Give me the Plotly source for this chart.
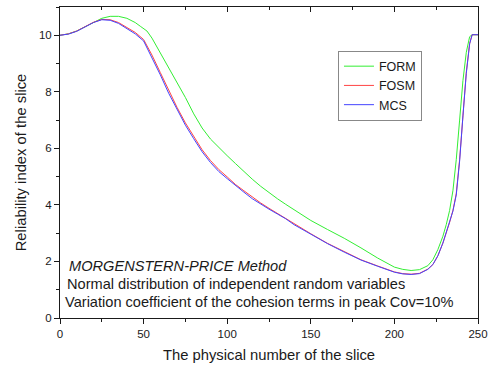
import plotly.graph_objects as go

# slice numbers and reliability indices
x_form = [0, 5, 10, 15, 20, 25, 30, 35, 40, 45, 48, 52, 55, 60, 65, 70, 75, 80, 85, 90, 95,
          100, 105, 110, 115, 120, 125, 130, 135, 140, 145, 150, 160, 170, 180, 190, 200, 205,
          210, 215, 220, 223, 226, 229, 231, 233, 235, 237, 239, 241, 243, 245, 246.5, 250]
y_form = [10.0, 10.05, 10.15, 10.3, 10.47, 10.6, 10.67, 10.67, 10.6, 10.45, 10.32, 10.15, 9.9,
          9.38, 8.85, 8.35, 7.8, 7.22, 6.72, 6.33, 6.02,
          5.74, 5.46, 5.18, 4.91, 4.66, 4.43, 4.22, 4.02, 3.82, 3.63, 3.45, 3.13, 2.82, 2.48,
          2.12, 1.8, 1.72, 1.68, 1.71, 1.85, 2.06,
          2.42, 2.89, 3.3, 3.8, 4.5, 5.6, 7.0, 8.4, 9.4, 9.95, 10.02, 10.02]

x_fosm = [0, 5, 10, 15, 20, 25, 30, 35, 40, 45, 50, 55, 60, 65, 70, 75, 80, 85, 90, 95,
          100, 105, 110, 115, 120, 125, 130, 135, 140, 145, 150, 160, 170, 180, 190, 200, 205,
          210, 215, 220, 223, 226, 229, 231, 233, 235, 237, 239, 241, 243, 245, 246.5, 250]
y_fosm = [10.0, 10.05, 10.15, 10.3, 10.46, 10.56, 10.55, 10.45, 10.28, 10.1, 9.85, 9.3, 8.68,
          8.05, 7.45, 6.9, 6.42, 5.95, 5.57, 5.25,
          4.99, 4.72, 4.5, 4.27, 4.07, 3.88, 3.7, 3.53, 3.32, 3.15, 2.98, 2.64, 2.34, 2.06, 1.84,
          1.63, 1.57, 1.55, 1.58, 1.73, 1.89, 2.2, 2.65, 3.0, 3.38, 3.8, 4.4, 5.6, 7.2, 8.7,
          9.7, 10.02, 10.02]

x_mcs = [0, 5, 10, 15, 20, 25, 30, 35, 40, 45, 50, 55, 60, 65, 70, 75, 80, 85, 90, 95,
         100, 105, 110, 115, 120, 125, 130, 135, 140, 145, 150, 160, 170, 180, 190, 200, 205,
         210, 215, 220, 223, 226, 229, 231, 233, 235, 237, 239, 241, 243, 245, 246.5, 250]
y_mcs = [10.0, 10.04, 10.14, 10.3, 10.45, 10.55, 10.53, 10.42, 10.25, 10.05, 9.8, 9.22, 8.6,
         7.95, 7.36, 6.82, 6.34, 5.88, 5.5, 5.18,
         4.93, 4.68, 4.45, 4.22, 4.02, 3.85, 3.68, 3.51, 3.3, 3.13, 2.97, 2.63, 2.33, 2.05, 1.83,
         1.62, 1.56, 1.54, 1.57, 1.72, 1.89, 2.2, 2.65, 3.0, 3.36, 3.78, 4.35, 5.55, 7.15, 8.65,
         9.7, 10.02, 10.02]

x_ticks = [0, 50, 100, 150, 200, 250]
y_ticks = [0, 2, 4, 6, 8, 10]

FONT = "Arial, Liberation Sans, sans-serif"
INK = "#1a1a1a"

fig = go.Figure()
fig.add_trace(go.Scatter(x=x_form, y=y_form, mode="lines", name="FORM",
                         line=dict(color="#33ee33", width=1)))
fig.add_trace(go.Scatter(x=x_fosm, y=y_fosm, mode="lines", name="FOSM",
                         line=dict(color="#ff4444", width=1)))
fig.add_trace(go.Scatter(x=x_mcs, y=y_mcs, mode="lines", name="MCS",
                         line=dict(color="#4444ff", width=1)))
fig.add_trace(go.Scatter(x=[], y=[], xaxis="x2", showlegend=False, hoverinfo="skip"))

fig.update_layout(
    width=492, height=367,
    margin=dict(l=60, r=14, t=7, b=49, autoexpand=False),
    paper_bgcolor="white", plot_bgcolor="white",
    font=dict(family=FONT, color=INK, size=11),
    showlegend=True,
    legend=dict(x=0.665, y=0.86, xanchor="left", yanchor="top",
                bordercolor="#888888", borderwidth=1, bgcolor="white",
                font=dict(size=12.5, family=FONT, color=INK),
                tracegroupgap=0, itemwidth=30),
    xaxis=dict(range=[0, 250], tickvals=x_ticks, ticktext=[str(v) for v in x_ticks],
               ticks="outside", ticklen=5, tickwidth=1, tickcolor=INK,
               minor=dict(dtick=25, tick0=0, ticks="outside", ticklen=3, tickcolor=INK),
               showline=True, linecolor=INK, linewidth=1, showgrid=False, zeroline=False,
               tickfont=dict(size=11.5),
               title=dict(text="The physical number of the slice", font=dict(size=14.8), standoff=10)),
    xaxis2=dict(range=[0, 250], overlaying="x", side="top", anchor="y",
                tickvals=x_ticks, showticklabels=False,
                ticks="inside", ticklen=5, tickcolor=INK,
                minor=dict(dtick=25, tick0=0, ticks="inside", ticklen=3, tickcolor=INK),
                showline=True, linecolor=INK, linewidth=1, showgrid=False, zeroline=False),
    yaxis=dict(range=[0, 11], tickvals=y_ticks, ticktext=[str(v) for v in y_ticks],
               ticks="outside", ticklen=5, tickwidth=1, tickcolor=INK,
               minor=dict(dtick=1, tick0=0, ticks="outside", ticklen=3, tickcolor=INK),
               showline=True, linecolor=INK, linewidth=1, mirror=True,
               showgrid=False, zeroline=False, tickfont=dict(size=11.5),
               title=dict(text="Reliability index of the slice", font=dict(size=14.8), standoff=8)),
)

notes = [
    (4.0, 1.85, "<i>MORGENSTERN-PRICE Method</i>"),
    (2.8, 1.21, "Normal distribution of independent random variables"),
    (1.6, 0.58, "Variation coefficient of the cohesion terms in peak Cov=10%"),
]
for nx, ny, txt in notes:
    fig.add_annotation(x=nx, y=ny, xref="x", yref="y", text=txt, showarrow=False,
                       xanchor="left", yanchor="middle",
                       font=dict(size=14.6, family=FONT, color=INK))

fig.write_html("out.html", config={"displayModeBar": False},
               post_script="document.body.style.margin='0';")
